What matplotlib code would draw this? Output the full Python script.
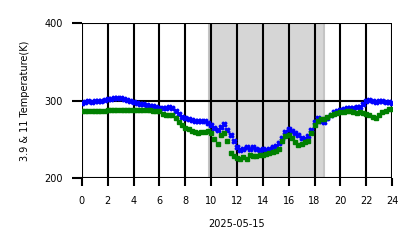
import numpy as np
import matplotlib
matplotlib.use('Agg')
import matplotlib.pyplot as plt

# Hours of the day (15 min steps)
hours = np.arange(0, 24.01, 0.25)

# Channel 3.9 temperature (K)
temp_39 = [297, 298, 299, 298, 299, 300, 300, 301, 302, 302, 303, 303, 303, 302, 301, 299,
           298, 297, 296, 295, 294, 293, 293, 292, 291, 290, 291, 292, 290, 287, 283, 279,
           277, 276, 275, 274, 274, 273, 274, 271, 268, 264, 262, 266, 270, 262, 255, 248,
           240, 236, 238, 240, 237, 240, 238, 236, 238, 236, 238, 240, 241, 245, 252, 260,
           263, 261, 258, 255, 252, 251, 254, 262, 272, 278, 274, 272, 278, 282, 285, 287,
           288, 289, 290, 291, 291, 292, 292, 295, 300, 301, 299, 298, 300, 299, 298, 298, 297]

# Channel 11 temperature (K)
temp_11 = [286, 286, 286, 286, 287, 287, 287, 287, 288, 288, 288, 288, 288, 288, 288, 288,
           288, 288, 288, 288, 288, 288, 287, 287, 286, 283, 281, 281, 282, 278, 272, 268,
           265, 263, 261, 259, 258, 260, 259, 261, 258, 250, 244, 255, 258, 248, 232, 229,
           226, 224, 227, 225, 230, 228, 229, 230, 230, 231, 232, 233, 235, 237, 248, 254,
           255, 252, 247, 243, 244, 247, 248, 258, 268, 274, 276, 276, 279, 281, 283, 284,
           285, 285, 286, 286, 285, 284, 285, 284, 283, 282, 279, 277, 282, 285, 287, 289, 289]

night_start, night_end = 9.85, 18.7

fig, ax = plt.subplots(figsize=(4.18, 2.48), dpi=100)
fig.subplots_adjust(left=0.196, right=0.938, top=0.907, bottom=0.282)

ax.axvspan(night_start, night_end, facecolor='#d6d6d6', edgecolor='#c4c4c4', linewidth=1.5, zorder=0)

ax.plot(hours, temp_39, linestyle='none', marker='X', markersize=3.5, color='blue', zorder=3)
ax.plot(hours, temp_11, linestyle='none', marker='s', markersize=2.5, color='green', zorder=4)

ax.set_xlim(0, 24)
ax.set_ylim(200, 400)
ax.set_xticks(range(0, 25, 2))
ax.set_yticks([200, 300, 400])
ax.grid(True, color='black', linewidth=1.5)
ax.set_axisbelow(False)
for s in ax.spines.values():
    s.set_visible(False)
ax.tick_params(axis='x', direction='out', length=6, width=1.5, labelsize=7, pad=7)
ax.tick_params(axis='y', direction='out', length=7, width=1.5, labelsize=7, pad=7)
ax.set_xlabel('2025-05-15', fontsize=7, labelpad=9)
ax.set_ylabel('3.9 & 11 Temperature(K)', fontsize=7, labelpad=10)

plt.savefig('out.png', dpi=100)
